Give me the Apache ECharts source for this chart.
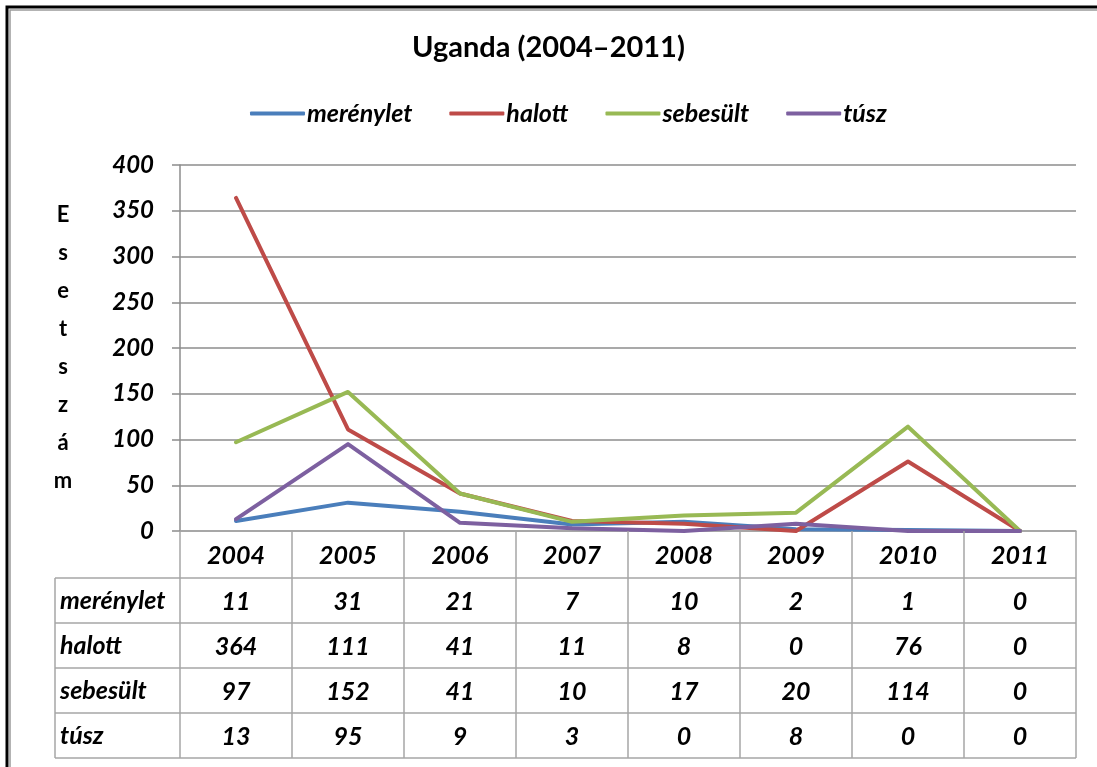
<!DOCTYPE html>
<html>
<head>
<meta charset="utf-8">
<title>Uganda (2004–2011)</title>
<script src="https://cdn.jsdelivr.net/npm/echarts@6/dist/echarts.min.js"></script>
<style>
  html, body { margin: 0; padding: 0; background: #fff; }
  #chart { width: 1097px; height: 767px; }
</style>
</head>
<body>
<div id="chart"></div>
<script>
// data
const years = ['2004', '2005', '2006', '2007', '2008', '2009', '2010', '2011']
const merenylet = [11, 31, 21, 7, 10, 2, 1, 0]
const halott = [364, 111, 41, 11, 8, 0, 76, 0]
const sebesult = [97, 152, 41, 10, 17, 20, 114, 0]
const tusz = [13, 95, 9, 3, 0, 8, 0, 0]
const seriesNames = ['merénylet', 'halott', 'sebesült', 'túsz']
const colors = ['#4A7EBB', '#BE4B48', '#98B954', '#7D60A0']
const yTicks = [0, 50, 100, 150, 200, 250, 300, 350, 400]
const yName = 'Esetszám'

const font = 'Lato'
const gridColor = '#8c8c8c'
const tableColor = '#a6a6a6'

const grid = { left: 180, right: 21, top: 165, bottom: 236 }
const rowH = 45       // table row height
const headH = 47      // year row height
const tableLeft = 55

const chart = echarts.init(document.getElementById('chart'))

const allSeries = [merenylet, halott, sebesult, tusz]

chart.setOption({
    animation: false,
    title: {
        text: 'Uganda (2004–2011)',
        left: 'center',
        top: 28,
        textStyle: { fontFamily: font, fontSize: 29, fontWeight: 'bold', color: '#000' }
    },
    legend: {
        top: 96,
        left: 245,
        itemWidth: 55,
        itemHeight: 4,
        itemGap: 37,
        icon: 'roundRect',
        data: seriesNames,
        textStyle: { fontFamily: font, fontSize: 25, fontStyle: 'italic', fontWeight: 'bold', color: '#000', padding: [0, 0, 0, -3] }
    },
    grid: grid,
    xAxis: {
        type: 'category',
        data: years,
        boundaryGap: true,
        axisLine: { show: true, lineStyle: { color: tableColor, width: 1.5 } },
        axisTick: { show: false },
        axisLabel: { show: false },
        splitLine: { show: false }
    },
    yAxis: {
        type: 'value',
        min: yTicks[0],
        max: yTicks[yTicks.length - 1],
        interval: yTicks[1] - yTicks[0],
        name: yName.split('').join('\n'),
        nameLocation: 'middle',
        nameRotate: 0,
        nameGap: 117,
        nameTextStyle: { fontFamily: font, fontSize: 22, fontWeight: 'bold', color: '#000', lineHeight: 38, align: 'center', padding: [26, 0, 0, 0] },
        axisLine: { show: true, lineStyle: { color: gridColor, width: 1.5 } },
        axisTick: { show: true, length: 8, lineStyle: { color: gridColor, width: 1.5 } },
        axisLabel: { fontFamily: font, fontSize: 24, fontStyle: 'italic', fontWeight: 'bold', color: '#000', margin: 26 },
        splitLine: { lineStyle: { color: gridColor, width: 1.5 } }
    },
    series: allSeries.map((d, i) => ({
        name: seriesNames[i],
        type: 'line',
        data: d,
        symbol: 'none',
        color: colors[i],
        lineStyle: { width: 4, color: colors[i], cap: 'round', join: 'round' }
    }))
})

// data table under the plot, laid out from the category axis
const buildTable = () => {
    const els = []
    const w = chart.getWidth(), h = chart.getHeight()
    const x0 = grid.left, x1 = w - grid.right
    const y0 = h - grid.bottom
    const band = (x1 - x0) / years.length
    const yBottom = y0 + headH + rowH * seriesNames.length
    const line = (ax, ay, bx, by) => els.push({
        type: 'line', shape: { x1: ax, y1: ay, x2: bx, y2: by },
        style: { stroke: tableColor, lineWidth: 1.5 }, z: 10
    })
    const txt = (t, x, y, align) => els.push({
        type: 'text', x: x, y: y, z: 11,
        style: { text: t, fill: '#000', font: 'italic bold 25px ' + font, align: align, verticalAlign: 'middle' }
    })
    // horizontal rules
    for (let r = 0; r <= seriesNames.length; r++) {
        const y = y0 + headH + rowH * r
        line(tableLeft, y, x1, y)
    }
    // vertical rules
    line(tableLeft, y0 + headH, tableLeft, yBottom)
    for (let c = 0; c <= years.length; c++) {
        const x = x0 + band * c
        line(x, y0, x, yBottom)
    }
    // year headers
    years.forEach((yr, i) => {
        const cx = chart.convertToPixel({ xAxisIndex: 0 }, yr)
        txt(yr, cx, y0 + headH / 2 + 1, 'center')
    })
    // rows
    allSeries.forEach((d, r) => {
        const cy = y0 + headH + rowH * r + rowH / 2
        txt(seriesNames[r], tableLeft + 5, cy, 'left')
        d.forEach((v, i) => {
            const cx = chart.convertToPixel({ xAxisIndex: 0 }, years[i])
            txt(String(v), cx, cy + 1, 'center')
        })
    })
    // frame of the picture (top and left edges)
    els.push({
        type: 'rect', shape: { x: 7, y: 7, width: w + 50, height: h + 50 },
        style: { fill: 'none', stroke: '#000', lineWidth: 3 }, z: 20
    })
    els.push({
        type: 'rect', shape: { x: 10, y: 10, width: w + 50, height: h + 50 },
        style: { fill: 'none', stroke: '#9a9a9a', lineWidth: 1.5 }, z: 20
    })
    chart.setOption({ graphic: els })
}
buildTable()
</script>
</body>
</html>
